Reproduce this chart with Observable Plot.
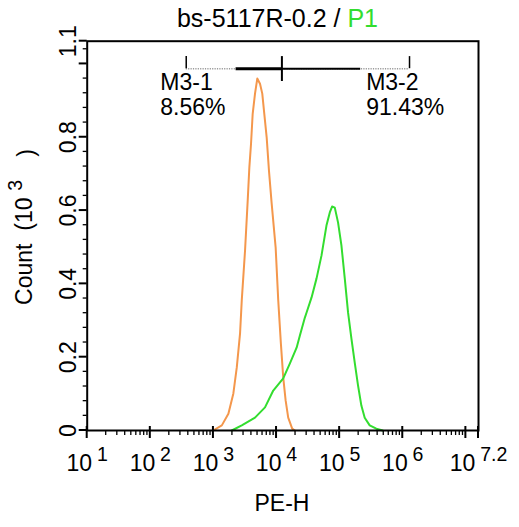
<!DOCTYPE html>
<html><head><meta charset="utf-8">
<script src="https://cdn.jsdelivr.net/npm/d3@7"></script>
<script src="https://cdn.jsdelivr.net/npm/@observablehq/plot@0.6"></script>
<style>body{margin:0;background:#fff;} svg{display:block;}</style>
</head><body><div id="chart"></div>
<script>
// ---- data (x values are log10 of PE-H, y values are Count in 10^3) ----
const orangeLogPE = [2.995,3.133,3.237,3.316,3.370,3.422,3.449,3.501,3.543,3.569,3.596,3.622,3.659,3.695,3.738,3.774,3.806,3.844,3.880,3.923,3.986,4.027,4.069,4.106,4.144,4.185,4.248,4.291];
const orangeCount = [0,0.014,0.046,0.101,0.172,0.265,0.355,0.491,0.627,0.717,0.783,0.864,0.919,0.960,0.946,0.919,0.864,0.799,0.709,0.619,0.499,0.355,0.237,0.145,0.082,0.035,0.005,0];
const greenLogPE = [3.291,3.449,3.659,3.817,3.948,4.106,4.212,4.318,4.370,4.449,4.476,4.555,4.634,4.712,4.791,4.844,4.880,4.923,4.975,5.028,5.081,5.133,5.186,5.239,5.291,5.344,5.397,5.476,5.581,5.681];
const greenCount = [0,0.014,0.035,0.063,0.109,0.142,0.183,0.226,0.259,0.308,0.322,0.363,0.415,0.477,0.559,0.595,0.611,0.608,0.567,0.505,0.415,0.322,0.251,0.185,0.123,0.068,0.035,0.014,0.005,0];

const xTickExp = [1,2,3,4,5,6,7,7.2];
const xTickExpLabels = ["1","2","3","4","5","6","","7.2"];
const yTicks = [0,0.2,0.4,0.6,0.8,1.0,1.062];
const yTickLabels = ["0","0.2","0.4","0.6","0.8","","1.1"];
const yMinorTicks = [0.04,0.08,0.12,0.16,0.24,0.28,0.32,0.36,0.44,0.48,0.52,0.56,0.64,0.68,0.72,0.76,0.84,0.88,0.92,0.96,1.04];

const gateNames = ["M3-1","M3-2"];
const gatePcts = ["8.56%","91.43%"];
const gateLabelExp = [2.158,5.42];
const gateBoundsExp = [2.569,6.107];
const gateSplitExp = [4.085];
const gateSolidExp = [3.359,5.333];
const gateY = 0.987;
const nameY = 0.93;
const pctY = 0.862;

const titleMain = "bs-5117R-0.2 / ";
const titleGate = "P1";
const xLabel = "PE-H";
const yLabel = "Count";

const orangeColor = "#f4974c";
const greenColor = "#33dd2f";

// ---- build ----
const p10 = e => Math.pow(10, e);
const orange = orangeLogPE.map((e,i)=>({pe:p10(e), count:orangeCount[i]}));
const green = greenLogPE.map((e,i)=>({pe:p10(e), count:greenCount[i]}));
const majorX = xTickExp.map(p10);
const minorX = [];
for (let d = 1; d <= 7; d++) for (let k = 2; k <= 9; k++) { const v = k*Math.pow(10,d); if (v < p10(7.2)) minorX.push(v); }

const FONT = "Liberation Sans, Arial, Helvetica, sans-serif";
const FS = 23;
const W = 519, H = 527, ML = 86.7, MR = 41, MT = 40.7, MB = 97;

const plot = Plot.plot({
  width: W, height: H,
  marginLeft: ML, marginRight: MR, marginTop: MT, marginBottom: MB,
  style: {fontFamily: FONT, fontSize: FS + "px", background: "#fff", color: "#000", overflow: "visible"},
  x: {type: "log", domain: [10, p10(7.2)], axis: null},
  y: {domain: [0, 1.062], axis: null},
  marks: [
    Plot.line(orange, {x: "pe", y: "count", stroke: orangeColor, strokeWidth: 2}),
    Plot.line(green, {x: "pe", y: "count", stroke: greenColor, strokeWidth: 2}),
    Plot.frame({stroke: "#000", strokeWidth: 2}),
    Plot.text(majorX, {x: d => d, text: (d,i) => xTickExpLabels[i] === "" ? "" : "10|" + xTickExpLabels[i], frameAnchor: "bottom", dy: 24, lineAnchor: "top", fontSize: FS}),
    Plot.text(yTicks, {y: d => d, text: (d,i) => yTickLabels[i], frameAnchor: "left", dx: -11, rotate: -90, textAnchor: "middle", lineAnchor: "bottom", fontSize: FS}),
    // gate marker
    Plot.ruleY([gateY], {x1: p10(gateBoundsExp[0]), x2: p10(gateBoundsExp[1]), stroke: "#9a9a9a", strokeWidth: 1.5, strokeDasharray: "1.2,1.2"}),
    Plot.ruleY([gateY], {x1: p10(gateSolidExp[0]), x2: p10(gateSplitExp[0]), stroke: "#000", strokeWidth: 3}),
    Plot.ruleY([gateY], {x1: p10(gateSplitExp[0]), x2: p10(gateSolidExp[1]), stroke: "#000", strokeWidth: 2}),
    Plot.ruleX(gateBoundsExp.map(p10), {y1: gateY, y2: gateY + 0.033, stroke: "#000", strokeWidth: 1.5}),
    Plot.ruleX(gateSplitExp.map(p10), {y1: gateY - 0.035, y2: gateY + 0.033, stroke: "#000", strokeWidth: 2}),
    Plot.text(gateNames, {x: (d,i) => p10(gateLabelExp[i]), y: nameY, text: d => d, textAnchor: "start", lineAnchor: "bottom", fontSize: FS}),
    Plot.text(gatePcts, {x: (d,i) => p10(gateLabelExp[i]), y: pctY, text: d => d, textAnchor: "start", lineAnchor: "bottom", fontSize: FS})
  ]
});

document.getElementById("chart").appendChild(plot);
const svg = d3.select(plot);
const sx = plot.scale("x"), sy = plot.scale("y");
const X0 = sx.apply(p10(1)), Yb = sy.apply(0);

// axis ticks, positioned through Plot's own scales
const tg = svg.append("g").attr("stroke", "#000").attr("fill", "none");
minorX.forEach(v => { const x = sx.apply(v); tg.append("line").attr("x1", x).attr("x2", x).attr("y1", Yb + 1).attr("y2", Yb + 5).attr("stroke-width", 1.3); });
majorX.forEach(v => { const x = sx.apply(v); tg.append("line").attr("x1", x).attr("x2", x).attr("y1", Yb - 4).attr("y2", Yb + 8).attr("stroke-width", 2); });
yMinorTicks.forEach(v => { const y = sy.apply(v); tg.append("line").attr("x1", X0 - 4).attr("x2", X0).attr("y1", y).attr("y2", y).attr("stroke-width", 1.3); });
yTicks.forEach(v => { const y = sy.apply(v); tg.append("line").attr("x1", X0 - 8).attr("x2", X0).attr("y1", y).attr("y2", y).attr("stroke-width", 2); });

// superscript exponents on x tick labels
svg.selectAll("text").each(function() {
  const t = d3.select(this);
  const s = this.textContent;
  if (s && s.startsWith("10|")) {
    const exp = s.split("|")[1];
    t.text("10");
    t.append("tspan").attr("dx", "0.25em").attr("dy", "-0.5em").attr("font-size", "0.85em").text(exp);
  }
});

// title
const title = svg.append("text").attr("x", 277.5).attr("y", 26.5).attr("text-anchor", "middle")
  .attr("font-family", FONT).attr("font-size", 25).attr("fill", "#000");
title.append("tspan").text(titleMain);
title.append("tspan").attr("fill", greenColor).text(titleGate);

// x label
svg.append("text").attr("x", 282).attr("y", 511).attr("text-anchor", "middle")
  .attr("font-family", FONT).attr("font-size", FS).attr("fill", "#000").text(xLabel);

// y label
const yl = svg.append("text").attr("transform", "translate(32,227) rotate(-90)").attr("text-anchor", "middle")
  .attr("font-family", FONT).attr("font-size", FS).attr("fill", "#000");
yl.append("tspan").text(yLabel + "  (10");
yl.append("tspan").attr("dx", "0.35em").attr("dy", "-0.5em").attr("font-size", "0.85em").text("3");
yl.append("tspan").attr("dx", "1.0em").attr("dy", "0.5em").text(")");
</script>
</body></html>
